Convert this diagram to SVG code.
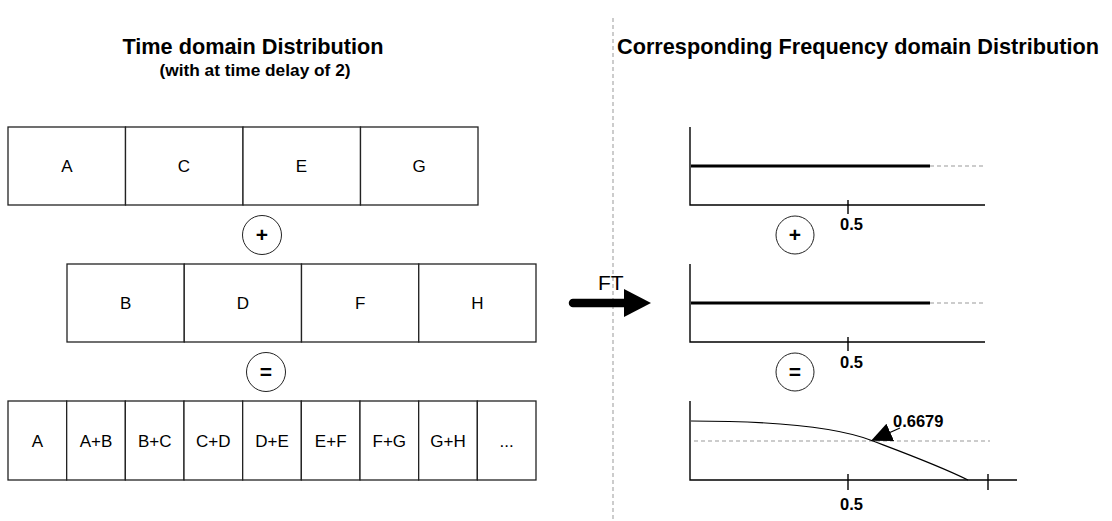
<svg xmlns="http://www.w3.org/2000/svg" width="1112" height="521" viewBox="0 0 1112 521">
  <defs>
    <style>
      .title { font-family: "Liberation Sans", Arial, sans-serif; font-weight: bold; font-size: 21.7px; fill: #000; }
      .sub { font-family: "Liberation Sans", Arial, sans-serif; font-weight: bold; font-size: 17.3px; fill: #000; }
      .cell { fill: #fff; stroke: #222; stroke-width: 1.3; }
      .lbl { font-family: "Liberation Sans", Arial, sans-serif; font-size: 17px; fill: #000; text-anchor: middle; }
      .op { fill: #fff; stroke: #222; stroke-width: 1; }
      .opt { font-family: "Liberation Sans", Arial, sans-serif; font-weight: bold; font-size: 21px; fill: #000; text-anchor: middle; }
      .axis { fill: none; stroke: #000; stroke-width: 1.4; }
      .dash { fill: none; stroke: #999; stroke-width: 1; stroke-dasharray: 4 3; }
      .flat { fill: none; stroke: #000; stroke-width: 3; }
      .num { font-family: "Liberation Sans", Arial, sans-serif; font-weight: bold; font-size: 16.5px; fill: #000; }
    </style>
    <marker id="tri" viewBox="0 0 10 10" refX="9" refY="5" markerWidth="21" markerHeight="21" markerUnits="userSpaceOnUse" orient="auto">
      <path d="M0,0.5 L10,5 L0,9.5 z" fill="#000"/>
    </marker>
  </defs>

  <!-- divider between time and frequency halves -->
  <line x1="613" y1="18" x2="613" y2="521" class="dash"/>

  <!-- headings -->
  <g id="time-title">
    <text x="253" y="54" class="title" text-anchor="middle">Time domain Distribution</text>
    <text x="255" y="76" class="sub" text-anchor="middle">(with at time delay of 2)</text>
  </g>
  <g id="freq-title">
    <text x="617" y="54" class="title" font-size="22.4">Corresponding Frequency domain Distribution</text>
  </g>

  <!-- first sequence: A C E G -->
  <g id="row-odd">
    <rect x="8" y="127" width="117.5" height="78" class="cell"/>
    <rect x="125.5" y="127" width="117.5" height="78" class="cell"/>
    <rect x="243" y="127" width="117.5" height="78" class="cell"/>
    <rect x="360.5" y="127" width="117.5" height="78" class="cell"/>
    <text x="67" y="172" class="lbl">A</text>
    <text x="184" y="172" class="lbl">C</text>
    <text x="301.5" y="172" class="lbl">E</text>
    <text x="419" y="172" class="lbl">G</text>
  </g>

  <g id="op-plus-time">
    <circle cx="262" cy="235" r="19.5" class="op"/>
    <text x="262" y="242" class="opt">+</text>
  </g>

  <!-- second sequence, shifted: B D F H -->
  <g id="row-even">
    <rect x="67" y="264" width="117.25" height="78" class="cell"/>
    <rect x="184.25" y="264" width="117.25" height="78" class="cell"/>
    <rect x="301.5" y="264" width="117.25" height="78" class="cell"/>
    <rect x="418.75" y="264" width="117.25" height="78" class="cell"/>
    <text x="125.6" y="309" class="lbl">B</text>
    <text x="242.9" y="309" class="lbl">D</text>
    <text x="360.1" y="309" class="lbl">F</text>
    <text x="477.4" y="309" class="lbl">H</text>
  </g>

  <g id="op-eq-time">
    <circle cx="266" cy="372" r="19.5" class="op"/>
    <text x="266" y="379" class="opt">=</text>
  </g>

  <!-- resulting sum sequence -->
  <g id="row-sum">
    <rect x="8" y="401" width="58.67" height="79" class="cell"/>
    <rect x="66.67" y="401" width="58.67" height="79" class="cell"/>
    <rect x="125.33" y="401" width="58.67" height="79" class="cell"/>
    <rect x="184" y="401" width="58.67" height="79" class="cell"/>
    <rect x="242.67" y="401" width="58.67" height="79" class="cell"/>
    <rect x="301.33" y="401" width="58.67" height="79" class="cell"/>
    <rect x="360" y="401" width="58.67" height="79" class="cell"/>
    <rect x="418.67" y="401" width="58.67" height="79" class="cell"/>
    <rect x="477.33" y="401" width="58.67" height="79" class="cell"/>
    <text x="37.3" y="447" class="lbl">A</text>
    <text x="96" y="447" class="lbl">A+B</text>
    <text x="154.7" y="447" class="lbl">B+C</text>
    <text x="213.3" y="447" class="lbl">C+D</text>
    <text x="272" y="447" class="lbl">D+E</text>
    <text x="330.7" y="447" class="lbl">E+F</text>
    <text x="389.3" y="447" class="lbl">F+G</text>
    <text x="448" y="447" class="lbl">G+H</text>
    <text x="506.7" y="447" class="lbl">...</text>
  </g>

  <!-- Fourier transform arrow -->
  <g id="ft-arrow">
    <line x1="573" y1="303" x2="626" y2="303" stroke="#000" stroke-width="8.5" stroke-linecap="round"/>
    <path d="M624,289 L651,303 L624,317 z" fill="#000"/>
    <text x="598" y="290" font-family="Liberation Sans, Arial, sans-serif" font-size="21" fill="#000">FT</text>
  </g>

  <!-- spectrum of first sequence -->
  <g id="spec-odd">
    <path d="M690,127 V205 H985" class="axis"/>
    <line x1="691" y1="166" x2="930" y2="166" class="flat"/>
    <line x1="930" y1="166" x2="985" y2="166" class="dash"/>
    <line x1="848" y1="200" x2="848" y2="214" class="axis"/>
    <text x="840" y="230" class="num">0.5</text>
  </g>

  <g id="op-plus-freq">
    <circle cx="795" cy="235" r="19" class="op"/>
    <text x="795" y="242" class="opt">+</text>
  </g>

  <!-- spectrum of second sequence -->
  <g id="spec-even">
    <path d="M690,264 V342 H985" class="axis"/>
    <line x1="691" y1="303" x2="930" y2="303" class="flat"/>
    <line x1="930" y1="303" x2="985" y2="303" class="dash"/>
    <line x1="848" y1="337" x2="848" y2="351" class="axis"/>
    <text x="840" y="368" class="num">0.5</text>
  </g>

  <g id="op-eq-freq">
    <circle cx="795" cy="372" r="19" class="op"/>
    <text x="795" y="379" class="opt">=</text>
  </g>

  <!-- spectrum of the sum -->
  <g id="spec-sum">
    <path d="M690,401 V480 H1017" class="axis"/>
    <line x1="848" y1="474" x2="848" y2="490" class="axis"/>
    <line x1="988" y1="474" x2="988" y2="490" class="axis"/>
    <line x1="694" y1="441" x2="990" y2="441" class="dash"/>
    <path d="M691,421 C780,421 840,428 873,441 C910,455 940,466 968,480" fill="none" stroke="#000" stroke-width="1.2"/>
    <text x="840" y="510" class="num">0.5</text>
    <text x="893" y="427" class="num">0.6679</text>
  </g>

  <!-- callout for the -3 dB crossing -->
  <g id="connectors">
    <line x1="900" y1="428" x2="873" y2="440" stroke="#000" stroke-width="1.2" marker-end="url(#tri)"/>
  </g>
</svg>
